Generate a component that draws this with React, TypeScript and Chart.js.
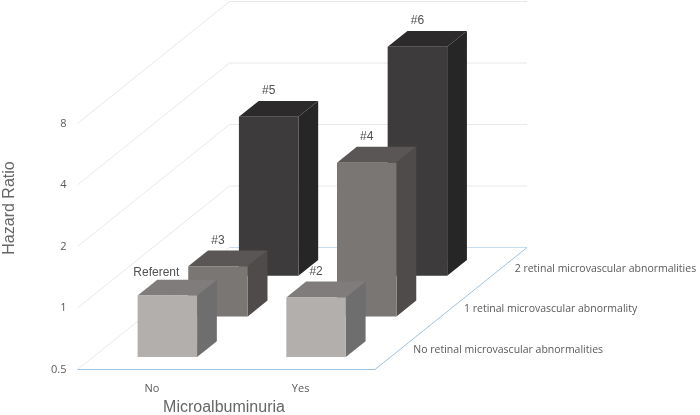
import React, { useEffect, useRef } from "react";
import { Chart, BarController, registerables } from "chart.js";

const categories = ["No", "Yes"];
const yTicks = [0.5, 1, 2, 4, 8];
const depthLabels = [
  "No retinal microvascular abnormalities",
  "1 retinal microvascular abnormality",
  "2 retinal microvascular abnormalities",
];
const noRetinal = [1.0, 0.98];
const oneRetinal = [0.88, 2.83];
const twoRetinal = [3.0, 6.6];
const noRetinalLabels = ["Referent", "#2"];
const oneRetinalLabels = ["#3", "#4"];
const twoRetinalLabels = ["#5", "#6"];

const DEPTH_DX = 152;
const DEPTH_DY = -122;
const BAR_DEPTH = 0.13;
const AREA = { left: 77.5, right: 375, top: 123.5, bottom: 369.5 };
const LABEL_FONT = '10.5px "Open Sans"';
const TEXT = "#595959";

const FACE_COLORS = [
  { front: "#b2afad", top: "#7f7c7b", side: "#6f6e6e" },
  { front: "#7a7674", top: "#5a5655", side: "#4f4b4a" },
  { front: "#3d3b3c", top: "#2c2a2a", side: "#272626" },
];

const poly = (ctx: any, color: string, pts: number[][]) => {
  ctx.fillStyle = color;
  ctx.beginPath();
  pts.forEach(([x, y], i) => (i ? ctx.lineTo(x, y) : ctx.moveTo(x, y)));
  ctx.closePath();
  ctx.fill();
};

class Bar3DController extends BarController {
  static id = "bar3d";
  draw() {
    const ctx = (this as any).chart.ctx;
    const meta = (this as any)._cachedMeta;
    const ds = (this as any).getDataset();
    const row: number = ds.depthRow;
    const colors = FACE_COLORS[row];
    const f = (row + 0.5) / depthLabels.length - BAR_DEPTH / 2;
    const ox = DEPTH_DX * f;
    const oy = DEPTH_DY * f;
    const dx = DEPTH_DX * BAR_DEPTH;
    const dy = DEPTH_DY * BAR_DEPTH;
    ctx.save();
    meta.data.forEach((el: any, i: number) => {
      const l = el.x - el.width / 2 + ox;
      const r = el.x + el.width / 2 + ox;
      const t = el.y + oy;
      const b = el.base + oy;
      poly(ctx, colors.side, [[r, t], [r + dx, t + dy], [r + dx, b + dy], [r, b]]);
      poly(ctx, colors.top, [[l, t], [l + dx, t + dy], [r + dx, t + dy], [r, t]]);
      poly(ctx, colors.front, [[l, t], [r, t], [r, b], [l, b]]);
      const text = ds.pointLabels[i];
      ctx.font = '12px "Liberation Sans"';
      ctx.fillStyle = "#505050";
      ctx.textAlign = "center";
      ctx.textBaseline = "middle";
      const nudge = text === "Referent" ? { x: -11, y: 3 } : { x: 0, y: 0 };
      ctx.fillText(text, (l + r) / 2 + nudge.x, t + dy - 10 + nudge.y);
    });
    ctx.restore();
  }
}

Chart.register(...registerables, Bar3DController);

const wallsPlugin = {
  id: "walls3d",
  beforeDatasetsDraw(chart: any) {
    const { ctx, scales } = chart;
    const x0 = scales.x.left;
    const x1 = scales.x.right;
    const floorY = scales.y.getPixelForValue(yTicks[0]);
    ctx.save();
    ctx.lineWidth = 1;
    ctx.strokeStyle = "#e8e8e8";
    yTicks.forEach((v) => {
      const y = scales.y.getPixelForValue(v);
      ctx.beginPath();
      ctx.moveTo(x0, y);
      ctx.lineTo(x0 + DEPTH_DX, y + DEPTH_DY);
      if (v !== yTicks[0]) ctx.lineTo(x1 + DEPTH_DX, y + DEPTH_DY);
      ctx.stroke();
    });
    ctx.strokeStyle = "#c9ddf0";
    ctx.beginPath();
    ctx.moveTo(x0 + DEPTH_DX, floorY + DEPTH_DY);
    ctx.lineTo(x1 + DEPTH_DX, floorY + DEPTH_DY);
    ctx.stroke();
    ctx.strokeStyle = "#9cc3e5";
    ctx.beginPath();
    ctx.moveTo(x0, floorY);
    ctx.lineTo(x1, floorY);
    ctx.lineTo(x1 + DEPTH_DX, floorY + DEPTH_DY);
    ctx.stroke();

    ctx.font = LABEL_FONT;
    ctx.fillStyle = TEXT;
    ctx.textAlign = "left";
    ctx.textBaseline = "middle";
    depthLabels.forEach((label, i) => {
      const f = (i + 0.5) / depthLabels.length;
      ctx.fillText(label, x1 + DEPTH_DX * f + 13, floorY + DEPTH_DY * f + 1);
    });

    ctx.font = '16px "Liberation Sans"';
    ctx.fillStyle = "#666666";
    ctx.textAlign = "center";
    ctx.fillText("Microalbuminuria", 224, 408);
    ctx.translate(10, 208);
    ctx.rotate(-Math.PI / 2);
    ctx.fillText("Hazard Ratio", 0, 0);
    ctx.restore();
  },
};

export default function App() {
  const ref = useRef<HTMLCanvasElement>(null);
  useEffect(() => {
    const mk = (values: number[], pointLabels: string[], depthRow: number, label: string) => ({
      label,
      data: values,
      pointLabels,
      depthRow,
      grouped: false,
      base: yTicks[0],
      clip: false,
      barPercentage: 0.4,
      categoryPercentage: 1,
      backgroundColor: FACE_COLORS[depthRow].front,
    });
    const chart = new Chart(ref.current as HTMLCanvasElement, {
      type: "bar3d" as any,
      data: {
        labels: categories,
        datasets: [
          mk(noRetinal, noRetinalLabels, 0, depthLabels[0]),
          mk(oneRetinal, oneRetinalLabels, 1, depthLabels[1]),
          mk(twoRetinal, twoRetinalLabels, 2, depthLabels[2]),
        ] as any,
      },
      options: {
        animation: false,
        responsive: false,
        layout: { padding: { left: 0, top: AREA.top, right: 700 - AREA.right, bottom: 0 } },
        plugins: { legend: { display: false }, tooltip: { enabled: false } },
        scales: {
          x: {
            type: "category",
            grid: { display: false },
            border: { display: false },
            ticks: {
              color: TEXT,
              font: { family: "Open Sans", size: 11 },
              padding: 5,
              maxRotation: 0,
              autoSkip: false,
            },
            afterFit: (s: any) => {
              s.height = 415 - AREA.bottom;
            },
          },
          y: {
            type: "logarithmic",
            min: yTicks[0],
            max: yTicks[yTicks.length - 1],
            grid: { display: false },
            border: { display: false },
            afterBuildTicks: (s: any) => {
              s.ticks = yTicks.map((value) => ({ value }));
            },
            ticks: {
              color: TEXT,
              font: { family: "Open Sans", size: 11 },
              padding: 3,
              autoSkip: false,
              callback: (v: any) => String(v),
            },
            afterFit: (s: any) => {
              s.width = AREA.left;
            },
          },
        },
      } as any,
      plugins: [wallsPlugin],
    });
    return () => chart.destroy();
  }, []);
  return (
    <div style={{ position: "fixed", left: 0, top: 0, width: 700, height: 415, background: "#fff" }}>
      <canvas ref={ref} width={700} height={415} style={{ display: "block" }} />
    </div>
  );
}
